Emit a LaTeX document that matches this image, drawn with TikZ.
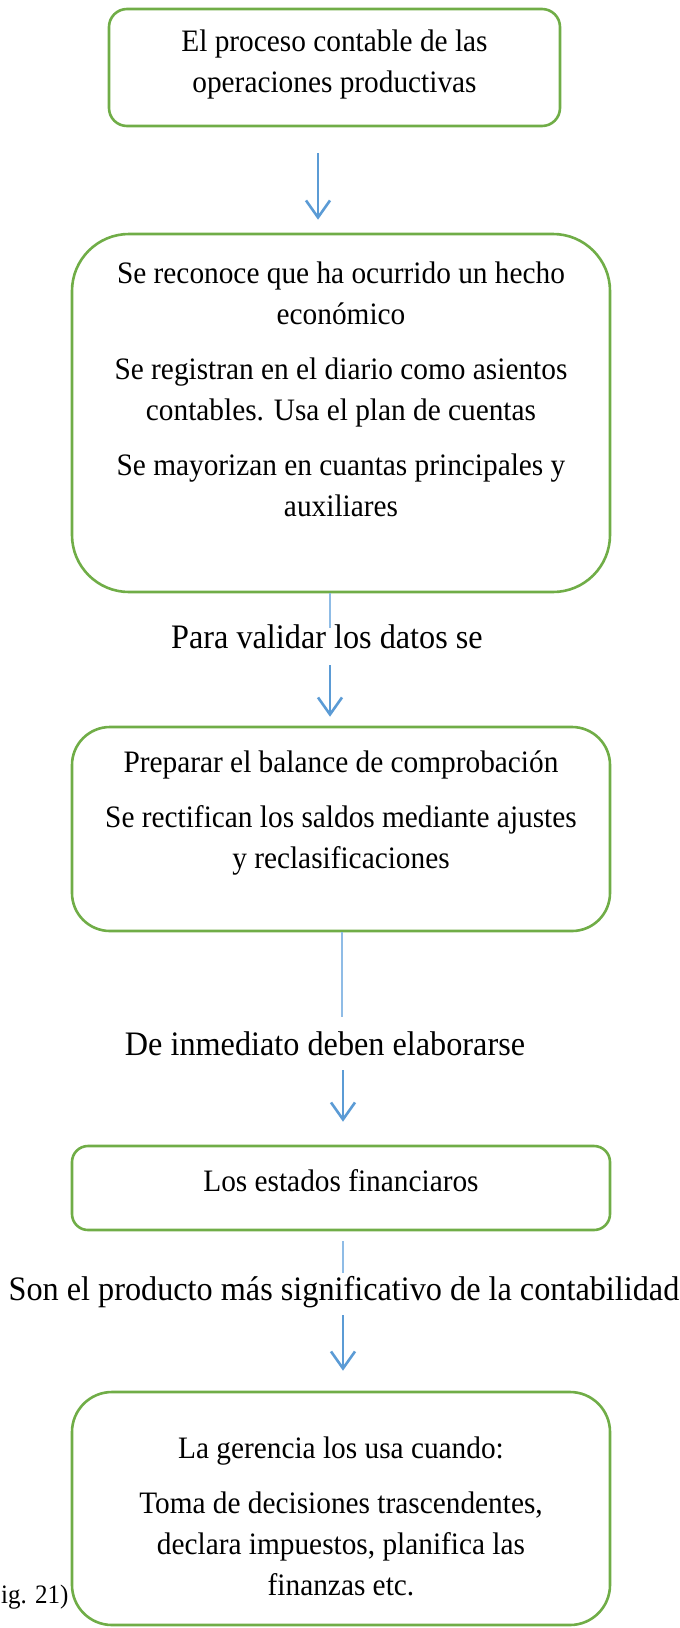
\documentclass[tikz,border=0pt]{standalone}
\usepackage{fontspec}
\setmainfont{Liberation Serif}[FakeStretch=0.94]
\usetikzlibrary{arrows.meta}
\definecolor{boxgreen}{HTML}{70AD47}
\definecolor{arrblue}{HTML}{5B9BD5}
\definecolor{lineblue}{HTML}{8FBCE6}
\begin{document}
\begin{tikzpicture}[x=1pt,y=-1pt,
  box/.style={draw=boxgreen, line width=2.6pt, inner sep=0pt},
  boxtext/.style={align=center, font=\fontsize{31.2}{41}\selectfont, inner sep=0pt},
  lbl/.style={font=\fontsize{34.3}{42}\selectfont, inner sep=0pt},
  arr/.style={draw=arrblue, line width=2.6pt, -{Straight Barb[length=17pt,width=24pt]}},
  thinline/.style={draw=lineblue, line width=1.3pt}]
\useasboundingbox (0,0) rectangle (680,1628);

% boxes
\node[box, rounded corners=18pt, minimum width=451pt, minimum height=117pt] (b1) at (334.5,67.5) {};
\node[boxtext] (t1) at (334.5,64) {El proceso contable de las\\operaciones productivas};

\node[box, rounded corners=57pt, minimum width=538pt, minimum height=358pt] (b2) at (341,413) {};
\node[boxtext] (t2) at (341,389) {Se reconoce que ha ocurrido un hecho\\económico\\[14pt]Se registran en el diario como asientos\\contables. Usa el plan de cuentas\\[14pt]Se mayorizan en cuantas principales y\\auxiliares};

\node[box, rounded corners=38pt, minimum width=538pt, minimum height=204pt] (b3) at (341,829) {};
\node[boxtext] (t3) at (341,813) {Preparar el balance de comprobación\\[14pt]Se rectifican los saldos mediante ajustes\\y reclasificaciones};

\node[box, rounded corners=16pt, minimum width=538pt, minimum height=84pt] (b4) at (341,1188) {};
\node[boxtext] (t4) at (341,1181) {Los estados financiaros};

\node[box, rounded corners=40pt, minimum width=538pt, minimum height=233pt] (b5) at (341,1508.5) {};
\node[boxtext] (t5) at (341,1516) {La gerencia los usa cuando:\\[14pt]Toma de decisiones trascendentes,\\declara impuestos, planifica las\\finanzas etc.};

% labels
\node[lbl] (l1) at (327,637) {Para validar los datos se};
\node[lbl] (l2) at (325,1044) {De inmediato deben elaborarse};
\node[lbl] (l3) at (344,1292) {Son el producto más significativo de la contabilidad};
\node[font=\fontsize{26.6}{32}\selectfont, anchor=west, inner sep=0pt] (fig) at (1,1597) {ig. 21)};

% connectors
\coordinate (ax1) at (318,0);
\draw[arr, shorten <=26pt, shorten >=13pt] (b1.south -| ax1) -- (b2.north -| ax1);

\coordinate (c1) at (330,628);
\draw[thinline] (b2.south -| c1) -- (c1);
\coordinate (a2) at (330,665);
\draw[arr, shorten >=9pt] (a2) -- (b3.north -| a2);

\coordinate (c2) at (342,1017);
\draw[thinline] (b3.south -| c2) -- (c2);
\coordinate (a3) at (343,1070);
\draw[arr, shorten >=23pt] (a3) -- (b4.north -| a3);

\coordinate (c3) at (343,1273);
\draw[thinline, shorten <=10pt] (b4.south -| c3) -- (c3);
\coordinate (a4) at (343,1315);
\draw[arr, shorten >=20pt] (a4) -- (b5.north -| a4);
\end{tikzpicture}
\end{document}
